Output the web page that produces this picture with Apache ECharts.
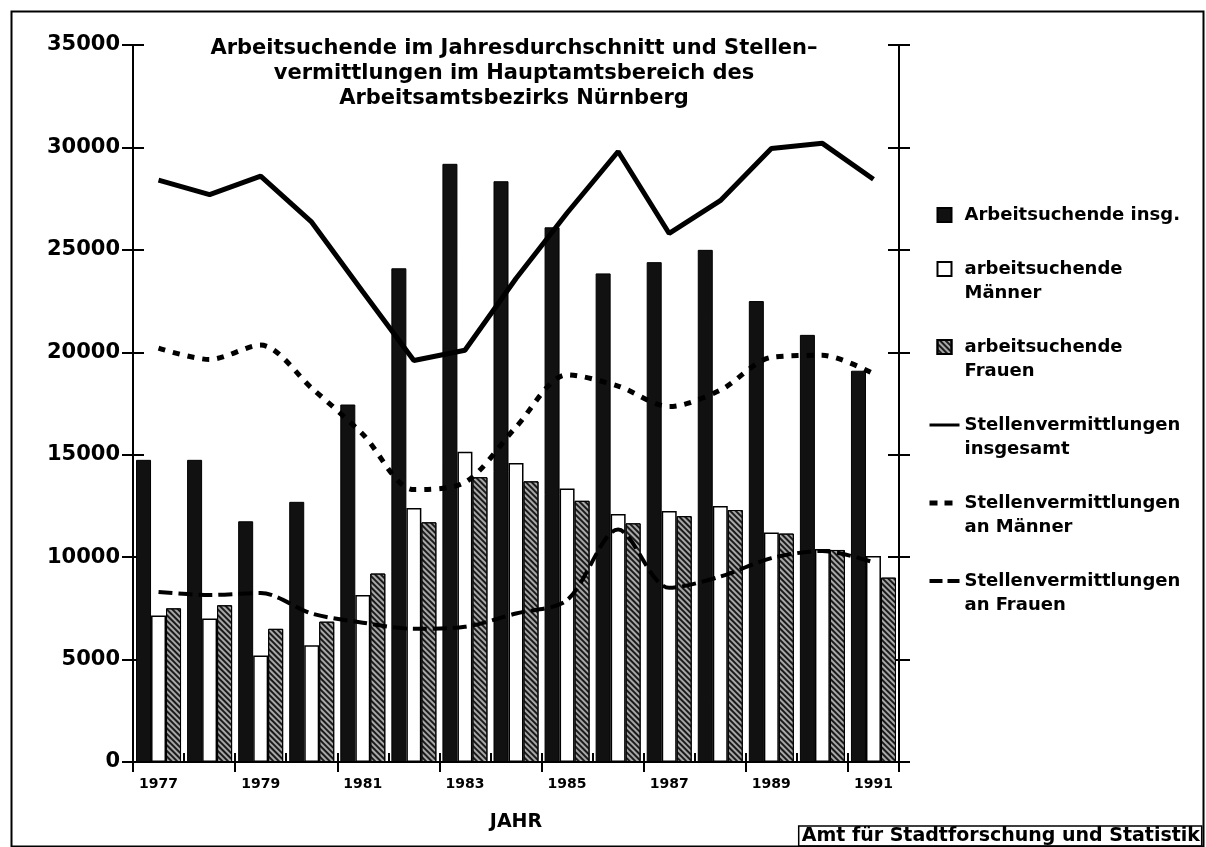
<!DOCTYPE html>
<html>
<head>
<meta charset="utf-8">
<script src="https://cdn.jsdelivr.net/npm/echarts@6/dist/echarts.min.js"></script>
<style>
  html, body { margin: 0; padding: 0; background: #fff; }
  #chart { width: 1206px; height: 847px; }
</style>
</head>
<body>
<div id="chart"></div>
<script>
// Jahre
const years = ['1977', '1978', '1979', '1980', '1981', '1982', '1983', '1984',
  '1985', '1986', '1987', '1988', '1989', '1990', '1991'];

// Arbeitsuchende (Balken)
const suchendeInsg = [14750, 14750, 11750, 12700, 17450, 24100, 29200, 28350,
  26100, 23850, 24400, 25000, 22500, 20850, 19100];
const suchendeMaenner = [7150, 7000, 5200, 5700, 8150, 12400, 15150, 14600,
  13350, 12100, 12250, 12500, 11200, 10400, 10050];
const suchendeFrauen = [7500, 7650, 6500, 6850, 9200, 11700, 13900, 13700,
  12750, 11650, 12000, 12300, 11150, 10350, 9000];

// Stellenvermittlungen (Linien)
const vermInsg = [28400, 27700, 28600, 26350, 22950, 19600, 20100, 23600,
  26800, 29800, 25800, 27400, 29950, 30200, 28450];
const vermMaenner = [20200, 19650, 20350, 18250, 16000, 13300, 13650, 16350,
  18900, 18350, 17350, 18150, 19750, 19850, 18950];
const vermFrauen = [8300, 8150, 8250, 7250, 6800, 6500, 6600, 7250,
  7900, 11350, 8500, 9050, 9950, 10300, 9750];

const yMin = 0, yMax = 35000, yStep = 5000;

const FONT = '"DejaVu Sans", sans-serif';
const square = 'path://M0,0L10,0L10,10L0,10Z';

const hatch = {
  symbol: 'rect',
  symbolSize: 1,
  dashArrayX: [1, 0],
  dashArrayY: [2, 2],
  rotation: Math.PI / 4,
  color: '#1a1a1a'
};

const chart = echarts.init(document.getElementById('chart'));

function yAx(position, inside, showLabel, showLine) {
  return {
    type: 'value', position: position, min: yMin, max: yMax, interval: yStep,
    axisLine: { show: showLine, lineStyle: { color: '#000', width: 2 } },
    axisTick: { show: true, inside: inside, length: 11, lineStyle: { color: '#000', width: 2 } },
    axisLabel: {
      show: showLabel, margin: 13, color: '#000',
      fontFamily: FONT, fontWeight: 'bold', fontSize: 21,
      formatter: function (v) { return String(v); }
    },
    splitLine: { show: false }
  };
}

const noDot = { opacity: 0 };

chart.setOption({
  animation: false,
  backgroundColor: '#fff',
  title: [
    {
      text: 'Arbeitsuchende im Jahresdurchschnitt und Stellen–\nvermittlungen im Hauptamtsbereich des\nArbeitsamtsbezirks Nürnberg',
      left: 514, top: 36, textAlign: 'center', padding: 0,
      textStyle: { fontFamily: FONT, fontWeight: 'bold', fontSize: 21, lineHeight: 25, color: '#000' }
    },
    {
      text: 'Amt für Stadtforschung und Statistik',
      right: 4, bottom: 1, padding: [1, 2, 0, 3],
      borderColor: '#000', borderWidth: 1.5,
      textStyle: { fontFamily: FONT, fontWeight: 'bold', fontSize: 19, color: '#000' }
    }
  ],
  graphic: [
    {
      type: 'rect', left: 9, top: 9,
      shape: { width: 1192, height: 835 },
      style: { fill: 'none', stroke: '#000', lineWidth: 2 },
      silent: true, z: -1
    }
  ],
  legend: {
    orient: 'vertical', left: 922, top: 198,
    itemWidth: 30, itemHeight: 14, itemGap: 6,
    textStyle: { fontFamily: FONT, fontWeight: 'bold', fontSize: 18, color: '#000', lineHeight: 24 },
    // zweizeilige Einträge: erste Zeile auf Höhe des Symbols
    formatter: function (name) {
      return name.indexOf('\n') >= 0 ? ' \n' + name : name;
    },
    data: [
      { name: 'Arbeitsuchende insg.', icon: square },
      { name: 'arbeitsuchende\nMänner', icon: square },
      { name: 'arbeitsuchende\nFrauen', icon: square },
      { name: 'Stellenvermittlungen\ninsgesamt', itemStyle: noDot,
        lineStyle: { width: 3, type: 'solid' } },
      { name: 'Stellenvermittlungen\nan Männer', itemStyle: noDot,
        lineStyle: { width: 5, type: [8, 7] } },
      { name: 'Stellenvermittlungen\nan Frauen', itemStyle: noDot,
        lineStyle: { width: 4, type: [13, 5] } }
    ]
  },
  grid: { left: 133, right: 307, top: 45, bottom: 85, containLabel: false },
  xAxis: [
    {
      type: 'category', data: years, position: 'bottom',
      name: 'JAHR', nameLocation: 'middle', nameGap: 51,
      nameTextStyle: { fontFamily: FONT, fontWeight: 'bold', fontSize: 19, color: '#000' },
      axisLine: { show: true, lineStyle: { color: '#000', width: 2 } },
      axisTick: { show: true, length: 10, lineStyle: { color: '#000', width: 2 } },
      axisLabel: {
        interval: 1, margin: 15, color: '#000',
        fontFamily: FONT, fontWeight: 'bold', fontSize: 14
      },
      splitLine: { show: false }
    },
    {
      type: 'category', data: years, position: 'bottom',
      axisLine: { show: false },
      axisTick: { show: true, inside: true, length: 9, lineStyle: { color: '#000', width: 2 } },
      axisLabel: { show: false },
      splitLine: { show: false }
    }
  ],
  yAxis: [
    yAx('left', false, true, true),
    yAx('left', true, false, false),
    yAx('right', true, false, true),
    yAx('right', false, false, false)
  ],
  series: [
    {
      name: 'Arbeitsuchende insg.', type: 'bar', data: suchendeInsg,
      barWidth: 15, barGap: '0%',
      itemStyle: { color: '#111', borderColor: '#000', borderWidth: 1 }
    },
    {
      name: 'arbeitsuchende\nMänner', type: 'bar', data: suchendeMaenner,
      barWidth: 15, barGap: '0%',
      itemStyle: { color: '#fff', borderColor: '#000', borderWidth: 1.5 }
    },
    {
      name: 'arbeitsuchende\nFrauen', type: 'bar', data: suchendeFrauen,
      barWidth: 15, barGap: '0%',
      itemStyle: { color: '#a8a8a8', borderColor: '#000', borderWidth: 1, decal: hatch }
    },
    {
      name: 'Stellenvermittlungen\ninsgesamt', type: 'line', data: vermInsg,
      symbol: 'none', z: 5,
      lineStyle: { color: '#000', width: 5 },
      itemStyle: { color: '#000' }
    },
    {
      name: 'Stellenvermittlungen\nan Männer', type: 'line', data: vermMaenner,
      symbol: 'none', smooth: 0.3, z: 5,
      lineStyle: { color: '#000', width: 5, type: [7, 8] },
      itemStyle: { color: '#000' }
    },
    {
      name: 'Stellenvermittlungen\nan Frauen', type: 'line', data: vermFrauen,
      symbol: 'none', smooth: 0.3, z: 5,
      lineStyle: { color: '#000', width: 4, type: [14, 6] },
      itemStyle: { color: '#000' }
    }
  ]
});
</script>
</body>
</html>
